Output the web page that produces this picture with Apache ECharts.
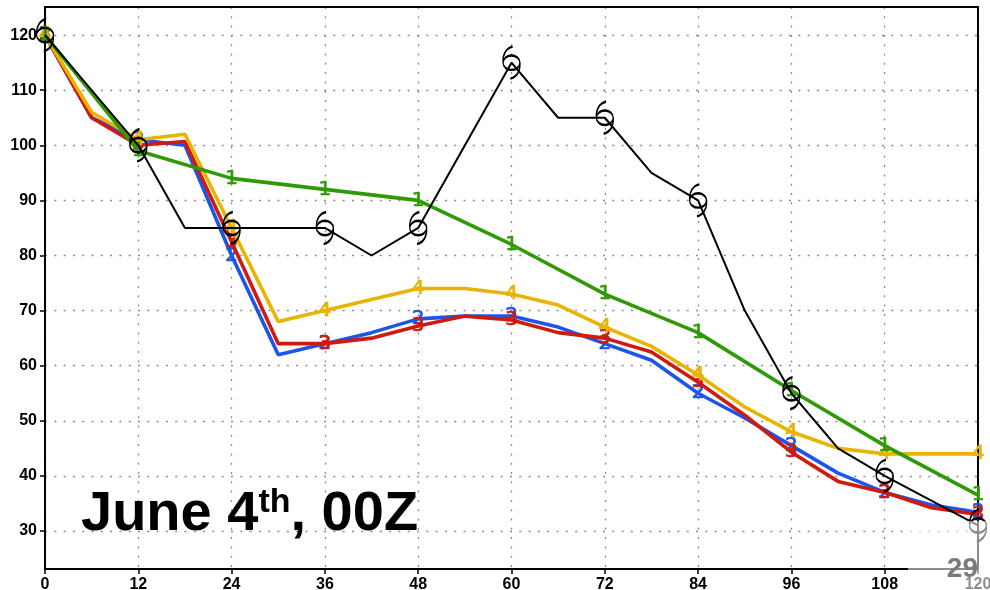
<!DOCTYPE html>
<html>
<head>
<meta charset="utf-8">
<script src="https://cdn.jsdelivr.net/npm/echarts@6/dist/echarts.min.js"></script>
<style>
  html, body { margin: 0; padding: 0; background: #fff; }
  #chart { width: 990px; height: 590px; }
</style>
</head>
<body>
<div id="chart"></div>
<script>
// Forecast hours and intensity (kt) for each track guidance line
const yTicks = [30, 40, 50, 60, 70, 80, 90, 100, 110, 120];

const blackHours  = [0, 12, 18, 24, 36, 42, 48, 60, 66, 72, 78, 84, 90, 96, 102, 108, 120];
const blackValues = [120, 100, 85, 85, 85, 80, 85, 115, 105, 105, 95, 90, 70, 55, 45, 40, 31];

const greenHours  = [0, 12, 24, 36, 48, 60, 72, 84, 96, 108, 120];
const greenValues = [120, 99, 94, 92, 90, 82, 73, 66, 55.5, 45.5, 36.5];

const blueHours  = [0, 6, 12, 18, 24, 30, 36, 42, 48, 54, 60, 66, 72, 78, 84, 90, 96, 102, 108, 114, 120];
const blueValues = [120, 105, 101, 100, 80, 62, 64, 66, 68.5, 69, 69, 67, 64, 61, 55, 50.5, 45.5, 40.5, 37, 34.7, 33.4];

const redHours  = [0, 6, 12, 18, 24, 30, 36, 42, 48, 54, 60, 66, 72, 78, 84, 90, 96, 102, 108, 114, 120];
const redValues = [120, 105, 100, 100.7, 82.5, 64, 64, 65, 67.2, 69, 68.3, 66, 65, 62.5, 57, 51, 44.3, 39, 37, 34.2, 33];

const yellowHours  = [0, 6, 12, 18, 24, 30, 36, 48, 54, 60, 66, 72, 78, 84, 90, 96, 102, 108, 120];
const yellowValues = [120, 106, 101, 102, 85, 68, 70, 74, 74, 73, 71, 67, 63.5, 58.3, 52.5, 48, 45, 44, 44];

const FONT = 'Liberation Sans';

// tropical-cyclone glyph: ring with an upper-left and a lower-right tail
const tcSymbol = 'path://M16,16 A7,7 0 1,1 2,16 A7,7 0 1,1 16,16 ' +
  'M2,16 C1.5,8 4.5,2 10,0.5 M16,16 C16.5,24 13.5,30 8,31.5';

function pairs(hours, values) {
  return hours.map((h, i) => [h, values[i]]);
}

// colored guidance line, its number drawn at every 12-hour point
function numberedLine(name, hours, values, color, digit, z) {
  return {
    name: name,
    type: 'line',
    z: z,
    data: pairs(hours, values).map(p => p[0] % 12 === 0
      ? { value: p, label: { show: true } }
      : { value: p }),
    symbol: 'circle',
    symbolSize: 1,
    showAllSymbol: true,
    itemStyle: { color: 'rgba(0,0,0,0)' },
    lineStyle: { color: color, width: 3.6 },
    label: {
      show: false,
      position: 'inside',
      formatter: digit,
      color: color,
      fontFamily: 'DejaVu Sans',
      fontSize: 20,
      fontWeight: 'normal',
      textBorderColor: color,
      textBorderWidth: 0.7
    },
    emphasis: { disabled: true },
    silent: true
  };
}

// frame-only axes for the top and right edges
const frameAxis = {
  axisLine: { show: true, onZero: false, lineStyle: { color: '#000', width: 2 } },
  axisTick: { show: false },
  axisLabel: { show: false },
  splitLine: { show: false }
};

const chart = echarts.init(document.getElementById('chart'), null, { renderer: 'canvas' });

chart.setOption({
  animation: false,
  backgroundColor: '#fff',
  grid: {
    left: 45, right: 12, top: 7, bottom: 21,
    outerBoundsMode: 'none',
    show: false
  },
  xAxis: [{
    type: 'value',
    min: 0, max: 120, interval: 12,
    axisLine: { onZero: false, lineStyle: { color: '#000', width: 2 } },
    axisTick: { show: true, length: 5, lineStyle: { color: '#000', width: 1.5 } },
    axisLabel: { color: '#000', fontFamily: FONT, fontWeight: 'bold', fontSize: 16, margin: 8,
                 showMinLabel: true, showMaxLabel: true },
    splitLine: { show: true, lineStyle: { color: '#8a8a8a', width: 1.3, type: [2, 7.3] } }
  }, Object.assign({ type: 'value', position: 'top', min: 0, max: 120 }, frameAxis)],
  yAxis: [{
    type: 'value',
    min: 23.1, max: 125.1,
    axisLine: { show: true, onZero: false, lineStyle: { color: '#000', width: 2 } },
    axisTick: { show: true, length: 5, customValues: yTicks, lineStyle: { color: '#000', width: 1.5 } },
    axisLabel: { color: '#000', fontFamily: FONT, fontWeight: 'bold', fontSize: 16, margin: 8,
                 customValues: yTicks },
    splitLine: { show: true, customValues: yTicks,
                 lineStyle: { color: '#8a8a8a', width: 1.3, type: [2, 7.3] } }
  }, Object.assign({ type: 'value', position: 'right', min: 23.1, max: 125.1 }, frameAxis)],
  series: [
    numberedLine('2', blueHours, blueValues, '#1c55ea', '2', 2),
    numberedLine('3', redHours, redValues, '#d01a0e', '3', 3),
    numberedLine('4', yellowHours, yellowValues, '#e8b400', '4', 4),
    numberedLine('1', greenHours, greenValues, '#2f9a05', '1', 5),
    {
      name: '6',
      type: 'line',
      z: 6,
      data: pairs(blackHours, blackValues).map(p => p[0] % 12 === 0
        ? { value: p }
        : { value: p, symbol: 'none' }),
      symbol: tcSymbol,
      symbolSize: [17, 32],
      showAllSymbol: true,
      itemStyle: { color: 'rgba(0,0,0,0)', borderColor: '#000', borderWidth: 1.8 },
      lineStyle: { color: '#000', width: 2 },
      emphasis: { disabled: true },
      silent: true
    }
  ],
  graphic: [
    {
      type: 'text',
      left: 81, top: 486,
      z: 20,
      style: {
        text: '{a|June 4}{b|th}{a|, 00Z}',
        rich: {
          a: { fontFamily: FONT, fontWeight: 'bold', fontSize: 56, fill: '#000', lineHeight: 58 },
          b: { fontFamily: FONT, fontWeight: 'bold', fontSize: 34, fill: '#000', verticalAlign: 'top', lineHeight: 42 }
        }
      }
    },
    {
      type: 'rect',
      z: 30,
      shape: { x: 908, y: 521, width: 82, height: 69 },
      style: { fill: 'rgba(255,255,255,0.55)' }
    },
    {
      type: 'text',
      z: 31,
      right: 12, top: 555,
      style: { text: '29', fontFamily: FONT, fontWeight: 'bold', fontSize: 28, fill: '#7a7a7a' }
    }
  ]
});
</script>
</body>
</html>
